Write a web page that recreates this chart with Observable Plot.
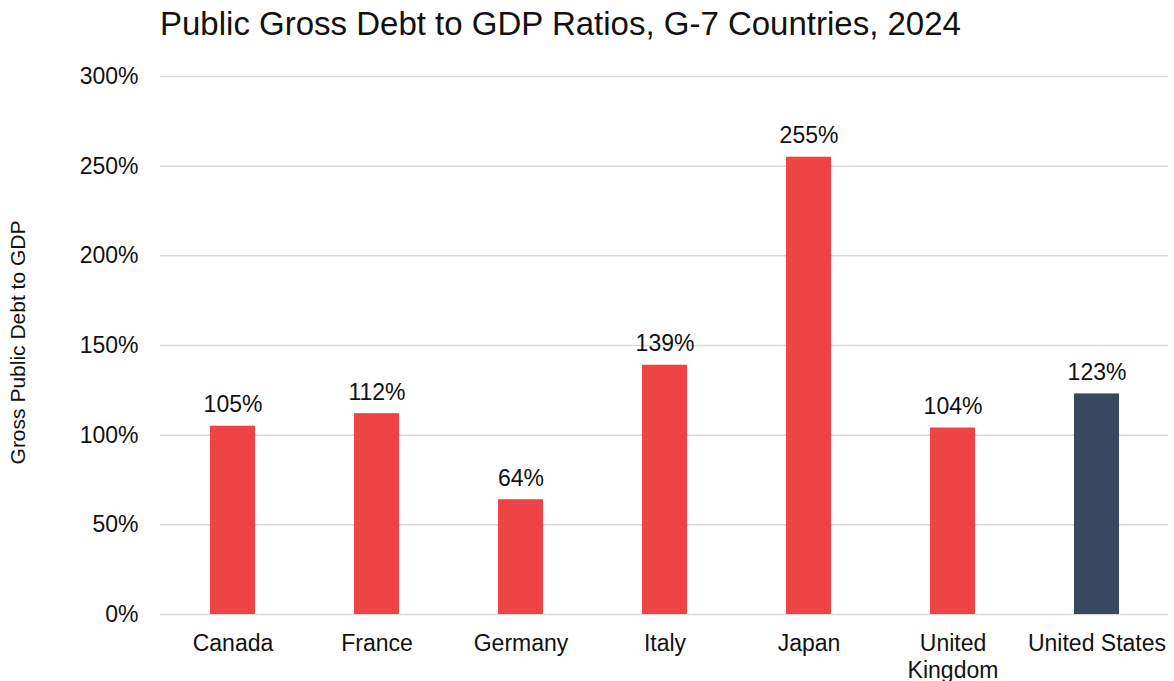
<!DOCTYPE html>
<html><head><meta charset="utf-8">
<script src="https://cdn.jsdelivr.net/npm/d3@7"></script>
<script src="https://cdn.jsdelivr.net/npm/@observablehq/plot@0.6"></script>
<style>
body{margin:0;background:#fff;font-family:"Liberation Sans",Arial,sans-serif;}
#title{height:45px;font-size:33px;line-height:45px;padding-left:160px;color:#111;position:relative;top:1px;white-space:nowrap}
</style></head><body>
<div id="title">Public Gross Debt to GDP Ratios, G-7 Countries, 2024</div>
<div id="chart"></div>
<script>
const countries = ["Canada","France","Germany","Italy","Japan","United Kingdom","United States"];
const xTickLabels = ["Canada","France","Germany","Italy","Japan","United\nKingdom","United States"];
const debtRatio = [105,112,64,139,255,104,123];
const barColors = ["#EF4444","#EF4444","#EF4444","#EF4444","#EF4444","#EF4444","#36495F"];
const yTicks = [0,50,100,150,200,250,300];
const yLabel = "Gross Public Debt to GDP";

const data = countries.map((c,i)=>({country:c, value:debtRatio[i], color:barColors[i]}));

const chart = Plot.plot({
  width:1174, height:636, marginTop:31, marginBottom:67, marginLeft:160, marginRight:6,
  style:{fontFamily:'"Liberation Sans",Arial,sans-serif', fontSize:"23px", color:"#111", background:"#fff", overflow:"visible"},
  x:{domain:countries, paddingInner:0.69, paddingOuter:0.345, align:0.5},
  y:{domain:[0,300]},
  color:{type:"identity"},
  marks:[
    Plot.gridY(yTicks, {stroke:"#d9d9d9", strokeOpacity:1, strokeWidth:1.5}),
    Plot.barY(data, {x:"country", y:"value", fill:"color"}),
    Plot.text(data, {x:"country", y:"value", text:d=>d.value+"%", lineAnchor:"bottom", dy:-14, fontSize:23, fill:"#111"}),
    Plot.axisY({ticks:yTicks, tickSize:0, tickPadding:22, tickFormat:d=>d+"%", label:null, fontSize:23}),
    Plot.axisX({tickSize:0, tickPadding:18, tickFormat:d=>xTickLabels[countries.indexOf(d)], label:null, lineHeight:1.15, fontSize:23}),
    Plot.text([yLabel], {frameAnchor:"left", rotate:-90, dx:-142, dy:-3, fontSize:21, textAnchor:"middle", lineAnchor:"middle", fill:"#111"})
  ]
});
document.getElementById("chart").appendChild(chart);
</script>
</body></html>
